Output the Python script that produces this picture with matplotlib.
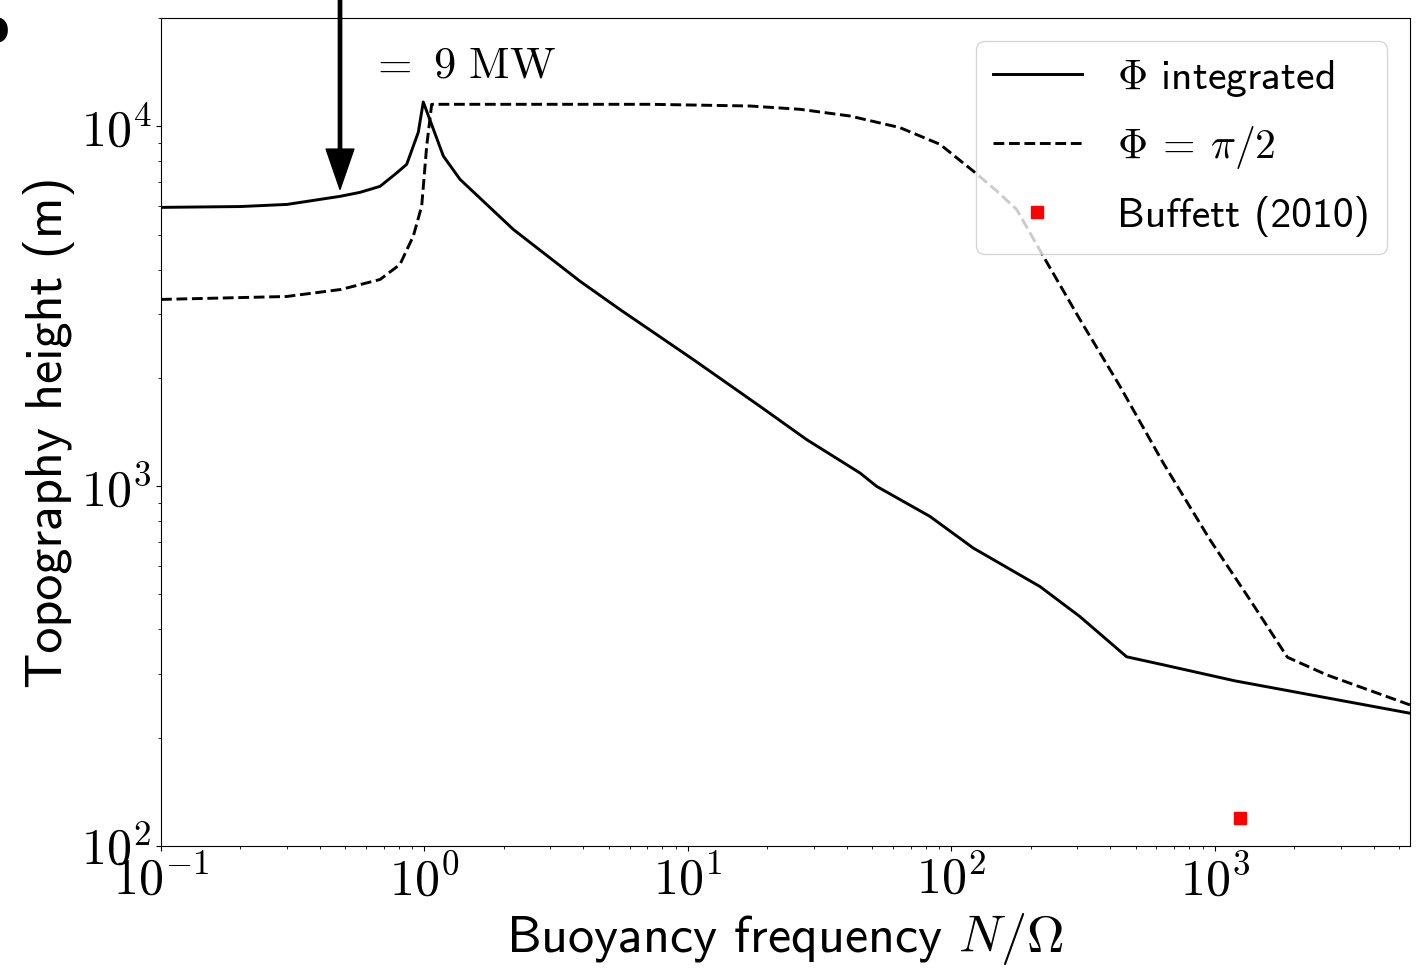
import math
import matplotlib
matplotlib.use("Agg")
import matplotlib.pyplot as plt
from matplotlib.ticker import FuncFormatter

plt.rcParams['mathtext.fontset'] = 'cm'

# --- data ---
n_integrated = [0.1, 0.2, 0.3007, 0.4778, 0.569, 0.6778, 0.7727, 0.856, 0.9473, 0.9895,
                1.179, 1.364, 2.173, 3.891, 5.52, 10.47, 18.76, 28.22, 44.97, 52.02,
                82.86, 121.0, 216.8, 307.4, 462.2, 636.5, 1191, 5495]
h_integrated = [5953, 5985, 6067, 6388, 6553, 6810, 7354, 7840, 9623, 11684,
                8269, 7123, 5170, 3712, 3097, 2249, 1667, 1347, 1088, 998.7,
                824, 673, 526, 434, 335.6, 318.8, 287.7, 233.9]

n_half_pi = [0.1, 0.3, 0.482, 0.678, 0.807, 0.907, 0.9759, 1.0195, 1.065, 7.176,
             17.19, 26.61, 41.19, 63.77, 90.46, 121.0, 146.2, 176.8, 223.1, 307.4,
             436.1, 636.5, 957.2, 1358, 1884, 2654, 5495]
h_half_pi = [3303, 3366, 3521, 3752, 4131, 4954, 6002, 8814, 11513, 11513,
             11389, 11151, 10683, 9917, 8912, 7510, 6680, 5875, 4357, 2905,
             1895, 1160, 710, 483.4, 334.6, 299, 246.7]

buffett_n = [1245]
buffett_h = [120]

arrow_n = 0.478
arrow_h = 6680

label_integrated = r'$\Phi$ integrated'
label_half_pi = r'$\Phi\:=\:\pi/2$'
label_buffett = 'Buffett (2010)'

sans = 'cmss10'

fig = plt.figure(figsize=(14.2, 9.71), dpi=100)
ax = fig.add_axes([161/1420, 1-846/971, (1410-161)/1420, (846-18)/971])

ax.plot(n_integrated, h_integrated, color='black', lw=2.1, label=label_integrated)
ax.plot(n_half_pi, h_half_pi, color='black', lw=2.1, ls='--', label=label_half_pi)
ax.plot(buffett_n, buffett_h, ls='none', marker='s', color='red', markersize=9,
        label=label_buffett)

ax.set_xscale('log')
ax.set_yscale('log')
ax.set_xlim(0.1, 5500)
ax.set_ylim(100, 2.0e4)

fmt = FuncFormatter(lambda v, p: r'$10^{%d}$' % round(math.log10(v)))
ax.xaxis.set_major_formatter(fmt)
ax.yaxis.set_major_formatter(fmt)
ax.tick_params(axis='both', which='major', labelsize=36)

ax.set_xlabel(r'Buoyancy frequency $N/\Omega$', fontsize=37.5, fontfamily=sans)
ax.set_ylabel('Topography height (m)', fontsize=37.5, fontfamily=sans)

leg = ax.legend(loc='upper right', prop={'family': sans, 'size': 30},
                handlelength=2.13, handletextpad=0.85, labelspacing=0.6,
                borderaxespad=0.56)

ax.annotate('', xy=(arrow_n, arrow_h), xycoords='data',
            xytext=(arrow_n, 1.01), textcoords=('data', 'figure fraction'),
            arrowprops=dict(facecolor='black', edgecolor='black', width=2.4,
                            headwidth=20, headlength=29, shrink=0),
            annotation_clip=False)

fig.text(370/1420, 1-77/971, r'$=\ 9\ \mathrm{MW}$', fontsize=32, va='baseline', ha='left')
fig.text(9/1420, 1-42/971, 'b', fontsize=32, fontweight='bold', ha='right', va='baseline')

fig.savefig('out.png', dpi=100)
